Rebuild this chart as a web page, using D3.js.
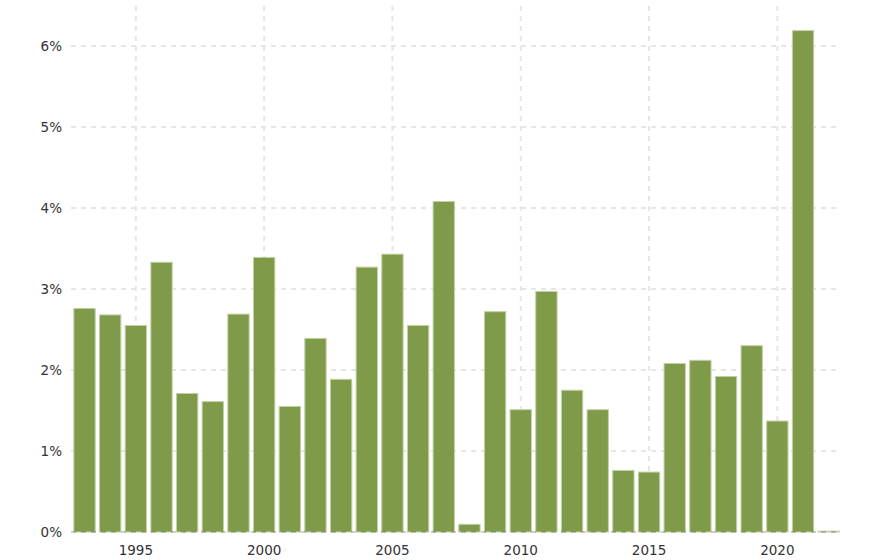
<!DOCTYPE html>
<html><head><meta charset="utf-8">
<script src="https://cdn.jsdelivr.net/npm/d3@7"></script>
<style>body{margin:0;background:#fff}svg{display:block}</style>
</head><body><svg id="c" width="888" height="560"></svg>
<script>
const years = [1993,1994,1995,1996,1997,1998,1999,2000,2001,2002,2003,2004,2005,2006,2007,2008,2009,2010,2011,2012,2013,2014,2015,2016,2017,2018,2019,2020,2021,2022];
const values = [2.76,2.68,2.55,3.33,1.71,1.61,2.69,3.39,1.55,2.39,1.885,3.27,3.43,2.55,4.08,0.095,2.72,1.51,2.97,1.75,1.51,0.76,0.74,2.08,2.12,1.92,2.30,1.37,6.19,0.01];
const yTicks = [0,1,2,3,4,5,6];
const xTicks = [1995,2000,2005,2010,2015,2020];

const svg = d3.select("#c");
const x = d3.scaleBand().domain(years).range([71.7, 841.5]).paddingInner(0.13).paddingOuter(0.065);
const y = d3.scaleLinear().domain([0,6]).range([532, 46]);
const gridL = 71, gridR = 837, gridTop = 6;
const cx = d => x(d) + x.bandwidth()/2;

// vertical gridlines
svg.append("g").selectAll("line").data(xTicks).join("line")
  .attr("x1", d=>cx(d)).attr("x2", d=>cx(d)).attr("y1", gridTop).attr("y2", 532)
  .attr("stroke","#e6e6e6").attr("stroke-width",2).attr("stroke-dasharray","5,5");
// horizontal gridlines
svg.append("g").selectAll("line").data(yTicks.filter(d=>d>0)).join("line")
  .attr("x1", gridL).attr("x2", gridR).attr("y1", d=>y(d)).attr("y2", d=>y(d))
  .attr("stroke","#e6e6e6").attr("stroke-width",2).attr("stroke-dasharray","5,5");

// bars
svg.append("g").selectAll("rect").data(years).join("rect")
  .attr("x", d=>x(d)+0.5).attr("width", x.bandwidth()-1)
  .attr("y", (d,i)=>y(values[i])).attr("height", (d,i)=>y(0)-y(values[i]))
  .attr("fill","#7f9a48").attr("stroke","#c2d1a6").attr("stroke-width",1);

// zero line over bars
svg.append("line").attr("x1",gridL).attr("x2",gridR).attr("y1",y(0)).attr("y2",y(0))
  .attr("stroke","#000").attr("stroke-opacity",0.18).attr("stroke-width",2).attr("stroke-dasharray","5,5");

// y labels
svg.append("g").selectAll("text").data(yTicks).join("text")
  .attr("x", 62).attr("y", d=>y(d)).attr("dy","0.36em").attr("text-anchor","end")
  .attr("font-family","DejaVu Sans, Verdana, sans-serif").attr("font-size",13.5).attr("fill","#333")
  .text(d=>d+"%");
// x labels
svg.append("g").selectAll("text").data(xTicks).join("text")
  .attr("x", d=>cx(d)).attr("y", 555).attr("text-anchor","middle")
  .attr("font-family","DejaVu Sans, Verdana, sans-serif").attr("font-size",13.5).attr("fill","#333")
  .text(d=>d);
</script></body></html>
